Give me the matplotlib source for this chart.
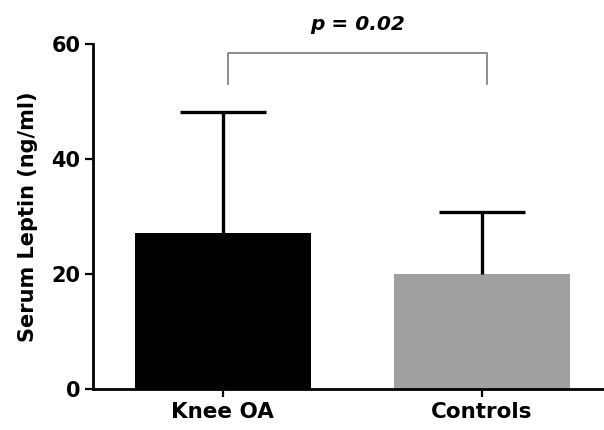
import matplotlib
matplotlib.use('Agg')
import matplotlib.pyplot as plt

# Data
groups = ['Knee OA', 'Controls']
means = [27.1, 20.1]
sd_upper = [21.2, 10.7]
colors = ['black', '#a0a0a0']
yticks = [0, 20, 40, 60]
p_text = 'p = 0.02'

plt.rcParams['font.family'] = ['DejaVu Sans']

fig = plt.figure(figsize=(6.04, 4.30), dpi=100)
ax = fig.add_axes([0.154, 0.0953, 0.846, 0.8017])

xpos = list(range(len(groups)))
ax.bar(xpos, means, width=0.68, color=colors, zorder=2)

# upper-only error bars with caps
cap_w = 0.33
for x, m, e in zip(xpos, means, sd_upper):
    ax.vlines(x, m, m + e, color='black', lw=2.4, zorder=3)
    ax.hlines(m + e, x - cap_w / 2, x + cap_w / 2, color='black', lw=2.4, zorder=3)

# significance bracket
bx = [xpos[0] + 0.02, xpos[0] + 0.02, xpos[1] + 0.02, xpos[1] + 0.02]
by = [53.1, 58.5, 58.5, 53.1]
ax.plot(bx, by, color='#858585', lw=1.3, clip_on=False)
ax.text((xpos[0] + xpos[1]) / 2 + 0.02, 63.4, p_text, ha='center', va='center',
        fontsize=14.5, fontweight='bold', fontstyle='italic', clip_on=False)

ax.set_xlim(-0.5, 1.47)
ax.set_ylim(0, 60)
ax.set_yticks(yticks)
ax.set_xticks(xpos)
ax.set_xticklabels(groups, fontsize=15.5, fontweight='bold')
for lab in ax.get_yticklabels():
    lab.set_fontsize(15)
    lab.set_fontweight('bold')
ax.set_ylabel('Serum Leptin (ng/ml)', fontsize=15, fontweight='bold', labelpad=10)

for s in ['top', 'right']:
    ax.spines[s].set_visible(False)
for s in ['left', 'bottom']:
    ax.spines[s].set_linewidth(2)
ax.tick_params(axis='both', length=6, width=1.6, color='black', pad=3)

fig.savefig('out.png', dpi=100)
